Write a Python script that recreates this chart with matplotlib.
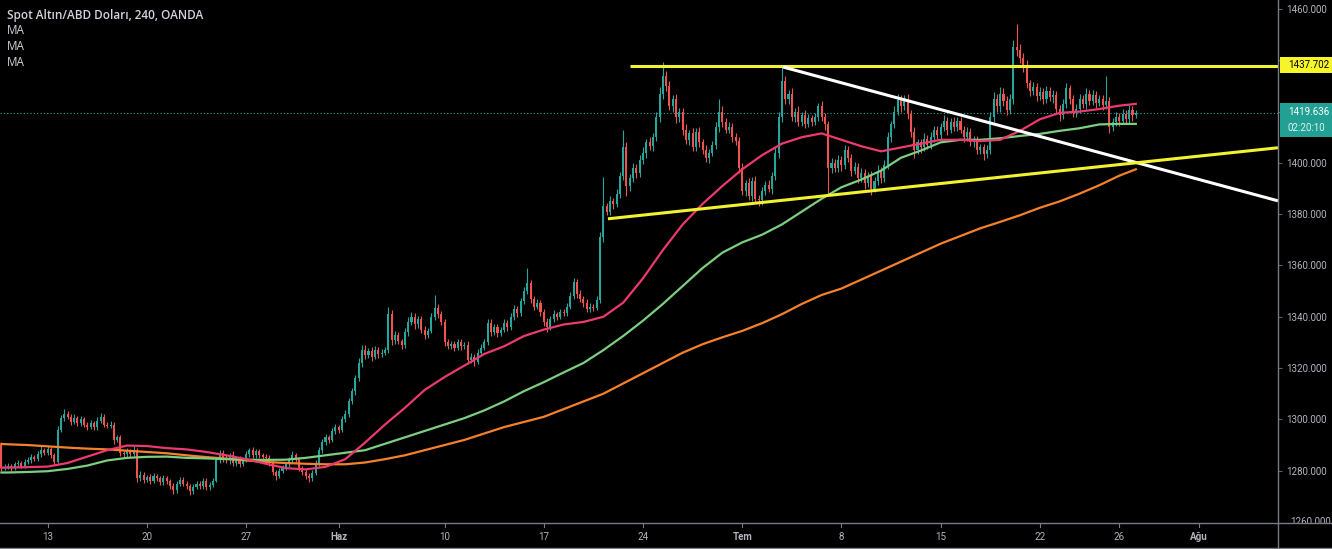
import numpy as np
import matplotlib
matplotlib.use("Agg")
import matplotlib.pyplot as plt
from matplotlib.patches import Rectangle
from matplotlib.lines import Line2D

# 4h closes, 6 bars per trading day (first two bars are the tail of May 8)
open0 = 1290.0
closes = [
    1281, 1281.5,
    1282, 1281, 1282.5, 1283, 1282, 1283.5,            # May 9
    1284, 1285.5, 1284.5, 1286.5, 1288, 1287,          # May 10
    1288.5, 1286, 1283.5, 1296, 1300.5, 1302,          # May 13
    1301, 1299, 1300.5, 1298.5, 1300, 1298,
    1297, 1298.5, 1297, 1299.5, 1301, 1298,
    1297.5, 1298, 1292, 1293, 1287, 1286.5,
    1287.5, 1286.5, 1288, 1277, 1278.5, 1276.5,
    1277.5, 1276, 1278, 1277, 1275.5, 1277,            # May 20
    1276, 1274, 1272.5, 1275, 1276.5, 1275,
    1274, 1272, 1273.5, 1275, 1274, 1276,
    1273.5, 1274.5, 1276, 1284, 1287, 1285,
    1284, 1286, 1283, 1284.5, 1282.5, 1284,
    1286.5, 1288, 1286, 1287.5, 1286, 1285.5,          # May 27
    1285, 1283, 1279.5, 1278, 1280, 1281,
    1282.5, 1284, 1286, 1284.5, 1281, 1279.5,
    1278, 1277, 1279, 1283, 1288, 1291,
    1293, 1292, 1295.5, 1297, 1296, 1300,
    1302, 1307, 1311, 1316, 1322, 1327,                # Jun 3
    1325, 1326.5, 1324.5, 1327, 1325.5, 1326,
    1327, 1341, 1331, 1333, 1330.5, 1329,
    1334, 1338, 1340, 1337, 1339, 1335,
    1333, 1334.5, 1340, 1343.5, 1341, 1338,
    1330, 1328.5, 1329.5, 1328, 1330, 1328.5,          # Jun 10
    1329, 1323, 1324.5, 1322.5, 1326, 1328,
    1330, 1337.5, 1334, 1336, 1333.5, 1335,
    1337.5, 1336, 1340, 1343, 1341.5, 1346,
    1350, 1353, 1347, 1344, 1345.5, 1342,
    1338, 1336, 1339, 1341, 1340, 1342,                # Jun 17
    1341.5, 1344, 1348, 1353.5, 1349, 1347,
    1345.5, 1343, 1344, 1343.5, 1346.5, 1371,
    1383, 1381, 1385, 1384, 1388, 1395,
    1406, 1391, 1394, 1398, 1396, 1401,
    1404, 1408, 1406.5, 1410, 1418, 1427,              # Jun 24
    1434, 1430, 1422, 1425, 1418, 1420,
    1413, 1409, 1411.5, 1406, 1412, 1408,
    1405, 1402, 1404, 1407, 1414, 1420,
    1416, 1413, 1414, 1410, 1408.5, 1398,
    1389, 1392, 1387, 1393, 1386, 1385.5,              # Jul 1
    1389, 1391.5, 1390, 1395, 1404, 1418,
    1432, 1425, 1427, 1418, 1420, 1416,
    1418.5, 1415, 1417.5, 1416, 1418, 1422,
    1418, 1415, 1398, 1400, 1398, 1401,
    1399, 1405, 1402, 1397, 1398.5, 1394,              # Jul 8
    1396, 1392, 1395, 1390, 1393, 1397,
    1394, 1399, 1410, 1415, 1420, 1424.5,
    1422, 1425, 1419, 1412, 1405, 1408,
    1406, 1409.5, 1407, 1410, 1413, 1411,
    1414, 1416.5, 1413, 1416, 1414, 1416.5,            # Jul 15
    1413, 1410, 1412, 1408, 1409, 1405,
    1406, 1403.5, 1405, 1418, 1425, 1422,
    1427, 1424, 1420.5, 1425, 1445, 1444,
    1441, 1438, 1431, 1428, 1429.5, 1426,
    1427.5, 1425, 1428, 1425.5, 1426.5, 1421,          # Jul 22
    1418.5, 1423, 1429, 1425, 1419.5, 1421,
    1425, 1423, 1427, 1424, 1426.5, 1423.5,
    1425, 1422.5, 1424, 1414, 1416, 1418,
    1416.5, 1419, 1417, 1420.5, 1418.5, 1419.636,
]

# wick lengths above / below the body
wick_up = [
    1, 1,
    1, 0.8, 1, 1.2, 0.8, 1,   1.2, 1, 0.8, 1.3, 1.5, 1,
    1, 0.8, 1, 1.5, 1.2, 2,   1.2, 1, 1.5, 1, 1.2, 1,   1, 1.2, 1, 1.4, 1.5, 1,
    1, 1.2, 0.8, 1, 1, 1.2,   1.2, 1, 1.5, 1, 1.2, 1,
    1, 1.2, 1, 0.8, 1, 1.2,   1, 0.8, 1.2, 1, 1, 0.9,   0.8, 1, 1.2, 1, 1, 1.2,
    1, 1.2, 1, 1.5, 1.2, 1,   1.2, 1, 1.5, 1, 1.2, 1,
    1.3, 1, 1.2, 1, 0.8, 1,   1, 1.2, 1, 0.8, 1, 1.2,   1, 1.2, 1.5, 1, 1, 0.8,
    1, 1.2, 1.3, 1, 1.2, 1.5, 1.5, 1, 1.2, 1.3, 1, 1.5,
    1.5, 1.3, 1.2, 1.5, 1.8, 2, 2, 1.5, 1.8, 1.5, 1.2, 1.6, 1.2, 3, 1.5, 1.5, 1.2, 1,
    1.5, 1.8, 2, 1.5, 1.2, 1.5, 1.5, 1.2, 1.5, 5, 1.5, 1.2,
    1.2, 1.5, 1.2, 1, 1.5, 1.2, 1.2, 1.5, 1.2, 1, 1.5, 1.2, 1.2, 1.5, 1.5, 1.2, 1, 1.2,
    1.5, 1.2, 1.5, 1.5, 1.2, 1.5, 1.5, 6, 1.5, 1.2, 1.5, 1.2,
    1.2, 1.5, 1.2, 1.5, 1, 1.2, 1.2, 1.5, 1.5, 1.5, 1.2, 1.5, 1.2, 1.5, 1.2, 1, 1.5, 2,
    11.6, 1.5, 2, 1.5, 2, 1.5, 7, 2, 1.5, 2, 1.5, 2,
    2, 1.5, 2, 1.8, 2, 2.5,   5.5, 2, 2, 1.5, 2, 1.5,   1.5, 2, 1.5, 2, 1.5, 2,
    1.5, 2, 1.5, 1.5, 2, 5,   2, 1.5, 2, 1.5, 1.5, 1.5,
    2, 1.5, 2, 1.5, 2, 1.5,   1.5, 1.5, 2, 1.5, 2, 2,   5.5, 2, 1.5, 2, 1.5, 2,
    1.5, 2, 1.5, 1.2, 1.5, 1.5, 2, 1.5, 1.5, 2, 1.5, 2,
    1.5, 2, 1.5, 1.5, 2, 1.5, 2, 1.5, 1.5, 2, 1.5, 2,   1.5, 2, 2, 1.5, 2, 2.5,
    2, 1.5, 2, 1.5, 2, 1.5,   1.5, 2, 1.5, 2, 1.5, 1.5,
    1.5, 2, 1.5, 1.5, 2, 1.5, 1.5, 1.5, 2, 1.5, 1.5, 1.5, 1.5, 1.5, 2, 2, 2.5, 2,
    2.5, 2, 2, 2, 3, 9,       2.5, 2, 2, 1.5, 2, 1.5,
    2, 1.5, 2, 1.5, 2, 1.5,   1.5, 2, 2, 1.5, 1.5, 2,   2, 1.5, 2, 1.5, 2, 1.5,
    1.5, 1.5, 10, 1.5, 1.5, 2, 1.5, 2, 1.5, 2, 1.5, 1,
]
wick_dn = [
    1, 0.8,
    0.8, 1, 0.7, 1, 0.8, 0.9, 0.8, 1, 0.7, 0.9, 1, 0.8,
    1, 0.9, 1.2, 0.5, 1, 1,   1, 1.3, 0.8, 1, 1.2, 0.9, 1, 0.8, 1.2, 1, 0.9, 1.1,
    0.9, 1, 1.5, 1, 1.2, 1,   1, 1.2, 0.8, 1.5, 1, 1.2,
    1, 1, 0.8, 1.2, 1, 0.9,   1, 1.2, 1.5, 1, 0.8, 1,   1, 1.3, 1, 0.8, 1, 1,
    1.2, 1, 1, 0.5, 1, 1.5,   1, 1.2, 1, 1.3, 1, 0.8,
    0.8, 1, 1.2, 1, 1, 0.9,   1, 1.2, 1.2, 1.5, 1, 0.8, 0.8, 1, 1, 1.2, 1.3, 1,
    1.3, 1.6, 1, 0.8, 1, 1,   1, 1.2, 0.8, 1, 1.2, 1,
    1, 1.2, 1, 1.3, 1, 1.5,   1.5, 1.2, 1.8, 1, 1.5, 1.2, 1, 1, 2, 1.5, 1.2, 1.5,
    1, 1.5, 1.2, 1.8, 1.5, 1.2, 1.5, 1.2, 1, 1.2, 1.5, 1.2,
    1.5, 1.2, 1, 1.2, 1, 1.3, 1, 1.5, 1.2, 1.5, 1, 1,   1, 1, 1.5, 1.2, 1.2, 1,
    1, 1.5, 1, 1.2, 1.5, 1,   1, 1.2, 1.5, 1.2, 1, 1.5,
    1.5, 2, 1, 1.2, 1.2, 1,   1.2, 1, 1, 1.2, 1.5, 1.2, 1.5, 1.2, 1, 1.2, 1, 1,
    2, 1.5, 1.5, 2, 1.2, 1.5, 1.5, 4, 2, 1.5, 2, 1.5,
    1.5, 2, 1.5, 2, 1.5, 2,   2, 2, 1.5, 2, 2.5, 2,     2, 1.5, 2, 1.5, 1.5, 2,
    1.5, 1.5, 2, 1.5, 1.5, 2, 2, 1.5, 1.5, 2, 1.5, 2,
    1.5, 2, 1.5, 2, 1.5, 2.5, 2, 1.5, 1.5, 2, 1.5, 2,   2, 2, 2, 1.5, 2, 1.5,
    1.5, 1.5, 1.2, 1.5, 1.2, 1.5, 1.5, 2, 10, 2, 1.5, 1.5,
    2, 1.5, 1.5, 2, 1.5, 2,   1.5, 2, 1.5, 2.5, 1.5, 1.5, 2, 1.5, 1.5, 2, 1.5, 1.5,
    2, 1.5, 2, 2, 3, 1.5,     2, 1.5, 1.5, 1.5, 2, 1.5,
    1.5, 1.5, 2, 1.5, 1.5, 1.5, 1.5, 2, 1.5, 1.5, 2, 1.5, 1.5, 2.5, 1.5, 1.5, 2, 2,
    2, 2, 2, 1.5, 2, 2.5,     2, 2.5, 2, 2, 1.5, 2,
    1.5, 2, 1.5, 1.5, 2, 1.5, 2, 1.5, 1.5, 2, 1.5, 1.5, 1.5, 1.5, 2, 1.5, 1.5, 2,
    1.5, 2, 1.5, 2.5, 1.5, 1.5, 2, 1.5, 1.5, 1.5, 2, 1,
]

# moving averages read once per trading day (bar 0, then each day's first bar, then last bar)
ma_red = [1281.2,
    1281.2, 1281.4, 1281.6, 1283, 1285.5, 1288, 1289.8, 1289.6, 1288.8, 1288.3,
    1287.3, 1286, 1284.5, 1282.7, 1281, 1280.5, 1281.5, 1284.5, 1291, 1298,
    1304.5, 1311.5, 1316.5, 1321, 1325.5, 1328.5, 1332.5, 1335, 1337, 1338,
    1340, 1345.5, 1355, 1366, 1376, 1384, 1391, 1397.5, 1403, 1407.5,
    1410, 1411.5, 1409, 1406.5, 1404.5, 1406, 1407.5, 1409, 1409, 1408.5,
    1409, 1412.5, 1417, 1419.5, 1420, 1421, 1422.3,
    1423]
ma_green = [1279.3,
    1279.3, 1279.5, 1279.8, 1280.7, 1282, 1284, 1285, 1285.4, 1285.5, 1285,
    1284.8, 1284.5, 1284.3, 1284.2, 1284.3, 1285, 1286, 1287, 1288, 1290.5,
    1293, 1295.5, 1298, 1300.5, 1303.5, 1307, 1311, 1314.5, 1318.3, 1322,
    1327, 1332.5, 1338.5, 1345, 1352, 1359, 1365, 1369, 1372, 1376,
    1381, 1386, 1390.5, 1393.5, 1397, 1402, 1404.8, 1408, 1409, 1409,
    1409.6, 1410.5, 1411.3, 1412.5, 1413.5, 1415, 1415.2,
    1415.2]
ma_orange = [1290.4,
    1290.3, 1290, 1289.5, 1289, 1288.6, 1288.3, 1287.8, 1287.3, 1286.8, 1286,
    1285.3, 1284.7, 1284, 1283.4, 1283, 1282.7, 1282.5, 1282.5, 1283.2, 1284.5,
    1286, 1288, 1290, 1292, 1294.5, 1297, 1299, 1301, 1304, 1307,
    1310, 1314, 1318, 1322, 1326, 1329.3, 1332, 1334.5, 1337.5, 1341,
    1345, 1348.5, 1351, 1354.5, 1358, 1361.5, 1365, 1368.5, 1371.5, 1374.5,
    1377, 1379.6, 1382.5, 1385, 1388, 1391.3, 1395,
    1397.5]

# drawn trend lines (bar index, price)
resist_level = 1437.702
resist_start = 190
white_line = ([236.3, 386], [1437.4, 1385.2])
yellow_line = ([183.4, 386], [1378.2, 1405.9])
last_price = 1419.636
countdown = "02:20:10"

tick_pos = [14, 44, 74, 102, 134, 164, 194, 224, 254, 284, 314, 338, 362]
tick_lbl = ["13", "20", "27", "Haz", "10", "17", "24", "Tem", "8", "15", "22", "26", "Ağu"]
month_lbl = {"Haz", "Tem", "Ağu"}
price_ticks = list(range(1280, 1461, 20))
hidden_ticks = {1420, 1440}   # covered by the price labels

W, H = 1332, 549
BG = "#000000"
TXT = "#b2b5be"
UP, DN = "#26a69a", "#ef5350"

c = np.array(closes, dtype=float)
o = np.r_[open0, c[:-1]]
hi = np.maximum(o, c) + np.array(wick_up)
lo = np.minimum(o, c) - np.array(wick_dn)
x = np.arange(len(c))
col = np.where(c >= o, UP, DN)
ma_x = np.r_[0, np.arange(2, len(c), 6), len(c) - 1]

fig = plt.figure(figsize=(W / 100, H / 100), dpi=100, facecolor=BG)
ax = fig.add_axes([0, 1 - 522 / H, 1278 / W, 522 / H], facecolor=BG)

ax.vlines(x, lo, hi, colors=col, linewidth=0.8, zorder=3)
ax.bar(x, np.maximum(np.abs(c - o), 0.3), bottom=np.minimum(o, c), width=0.62,
       color=col, linewidth=0, zorder=4)

ax.plot(ma_x, ma_orange, color="#f7812b", lw=1.6, zorder=5)
ax.plot(ma_x, ma_green, color="#7ccf80", lw=1.6, zorder=5)
ax.plot(ma_x, ma_red, color="#ec3a6e", lw=1.6, zorder=5)

ax.axhline(last_price, color=UP, lw=0.8, ls=(0, (1, 2)), zorder=2)
ax.hlines(resist_level, resist_start, 390, color="#f2f230", lw=2.2, zorder=6)
ax.plot(*white_line, color="white", lw=2.2, zorder=6, solid_capstyle="butt")
ax.plot(*yellow_line, color="#f2f230", lw=2.2, zorder=6, solid_capstyle="butt")

ax.set_xlim(-0.42, 386)
ax.set_ylim(1260, 1463.5)
for s in ["top", "left", "bottom", "right"]:
    ax.spines[s].set_visible(False)

ax.yaxis.tick_right()
ax.set_yticks(price_ticks)
ax.set_yticklabels(["" if p in hidden_ticks else f"{p:.3f}" for p in price_ticks])
ax.tick_params(axis="y", colors="#5d606b", labelcolor=TXT, length=3, width=0.8,
               pad=3, labelsize=7)
for t in ax.get_yticklabels():
    t.set_family("Roboto")
ax.set_xticks([])


def fx(px):
    return px / W


def fy(py):
    return 1 - py / H


# time scale area and frame lines
fig.text(fx(1290), fy(522), "1260.000", color=TXT, fontsize=7, family="Roboto",
         ha="left", va="center", zorder=0.5)
fig.add_artist(Rectangle((0, 0), 1, fy(523), transform=fig.transFigure,
                         fc=BG, ec="none", zorder=1))
fig.add_artist(Line2D([0, 1], [fy(523), fy(523)], transform=fig.transFigure,
                      color="#787b86", lw=1.0, zorder=2))
fig.add_artist(Line2D([0, 1], [fy(548), fy(548)], transform=fig.transFigure,
                      color="#787b86", lw=1.0, zorder=2))
fig.add_artist(Line2D([fx(1278), fx(1278)], [0, 1], transform=fig.transFigure,
                      color="#787b86", lw=1.0, zorder=2))

for p, lbl in zip(tick_pos, tick_lbl):
    xp = ax.transData.transform((p, 1260))[0] / W
    fig.text(xp, fy(537), lbl, color=TXT, fontsize=7, family="Roboto",
             ha="center", va="center", zorder=3,
             fontweight="bold" if lbl in month_lbl else "normal")
    fig.add_artist(Line2D([xp, xp], [fy(523), fy(527)], transform=fig.transFigure,
                          color="#787b86", lw=0.8, zorder=3))

# price labels on the scale
fig.add_artist(Rectangle((fx(1280), fy(73)), fx(52), 16 / H, transform=fig.transFigure,
                         fc="#f5f52a", ec="none", zorder=2))
fig.text(fx(1288), fy(65), f"{resist_level:.3f}", color="black", fontsize=7,
         family="Roboto", ha="left", va="center", zorder=3)
fig.add_artist(Rectangle((fx(1280), fy(137)), fx(52), 34 / H, transform=fig.transFigure,
                         fc="#22a093", ec="none", zorder=2))
fig.text(fx(1288), fy(112), f"{last_price:.3f}", color="white", fontsize=7,
         family="Roboto", ha="left", va="center", zorder=3)
fig.text(fx(1288), fy(128), countdown, color="#e0f2f1", fontsize=7,
         family="Roboto", ha="left", va="center", zorder=3)

# legend text
fig.text(fx(7), fy(15), "Spot Altın/ABD Doları, 240, OANDA", color="#d1d4dc",
         fontsize=8.5, family="Open Sans", fontweight="semibold", ha="left", va="center")
for yy in (31, 47, 63):
    fig.text(fx(7), fy(yy), "MA", color="#d1d4dc", fontsize=8.5, family="Open Sans",
             ha="left", va="center")

fig.savefig("out.png", dpi=100, facecolor=BG)
